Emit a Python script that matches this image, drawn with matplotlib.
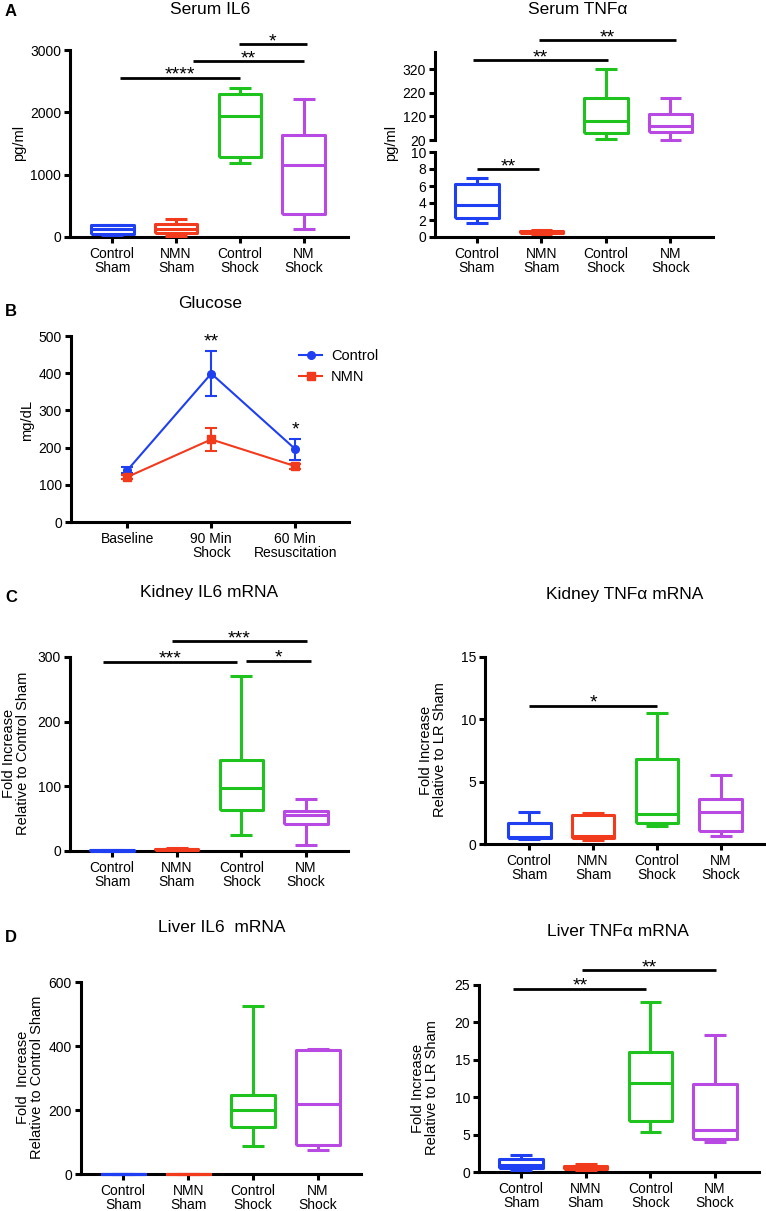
import matplotlib.pyplot as plt

plt.rcParams['font.family'] = ['Liberation Sans', 'DejaVu Sans']

W, H = 766, 1211

grupos = ['Control\nSham', 'NMN\nSham', 'Control\nShock', 'NM\nShock']
colores = ['#1f3ff2', '#f23a1d', '#1ec31e', '#b84ae3']

# cinco numeros por grupo: [bigote bajo, q1, mediana, q3, bigote alto]
serum_il6 = [[30, 55, 135, 190, 200],
             [10, 70, 134, 204, 284],
             [1190, 1286, 1946, 2294, 2396],
             [123, 375, 1163, 1635, 2214]]
serum_tnf = [[1.6, 2.2, 3.8, 6.2, 7.0],
             [0.35, 0.45, 0.6, 0.75, 0.85],
             [23, 51, 102, 199, 323],
             [20, 52, 80, 131, 199]]
kidney_il6 = [[0.5, 0.7, 1.0, 1.5, 2.0],
              [1.0, 1.5, 2.5, 3.5, 4.0],
              [24, 64, 98, 141, 271],
              [9, 42, 55, 62, 80]]
kidney_tnf = [[0.37, 0.46, 0.59, 1.71, 2.6],
              [0.32, 0.46, 0.67, 2.33, 2.46],
              [1.47, 1.71, 2.4, 6.8, 10.5],
              [0.67, 1.07, 2.6, 3.6, 5.5]]
liver_il6 = [[0.5, 0.8, 1.0, 1.2, 1.5],
             [0.5, 0.8, 1.0, 1.2, 1.5],
             [86, 147, 201, 248, 526],
             [76, 92, 219, 387, 392]]
liver_tnf = [[0.3, 0.5, 0.9, 1.7, 2.3],
             [0.27, 0.36, 0.62, 0.8, 1.07],
             [5.35, 6.86, 11.85, 16.0, 22.7],
             [4.05, 4.4, 5.6, 11.8, 18.3]]

# barras de significancia: (desde, hasta, altura, texto)
sig_serum_il6 = [(0.12, 2.0, 2557, '****'), (1.27, 3.0, 2825, '**'), (1.98, 3.05, 3093, '*')]
sig_serum_tnf_bajo = [(0.0, 0.97, 8.0, '**')]
sig_serum_tnf_alto = [(-0.06, 2.03, 357, '**'), (0.97, 3.08, 443, '**')]
sig_kidney_il6 = [(-0.14, 1.94, 293, '***'), (0.93, 3.01, 324, '***'), (2.07, 3.08, 294, '*')]
sig_kidney_tnf = [(0.0, 2.0, 11.1, '*')]
sig_liver_tnf = [(-0.12, 1.94, 24.5, '**'), (0.95, 3.01, 27.0, '**')]

# glucosa
tiempos = ['Baseline', '90 Min\nShock', '60 Min\nResuscitation']
gluc_control = [139, 399, 196]
gluc_control_err = [8, 61, 28]
gluc_nmn = [121, 222, 150]
gluc_nmn_err = [6, 32, 7]
sig_glucosa = ['', '**', '*']

LW = 2.2


def rect(x0, y0, x1, y1):
    return [x0 / W, 1 - y1 / H, (x1 - x0) / W, (y1 - y0) / H]


def ejes(ax, xlim, ylim, yticks, abajo=True):
    ax.set_xlim(*xlim)
    ax.set_ylim(*ylim)
    ax.set_yticks(yticks)
    for s in ['top', 'right']:
        ax.spines[s].set_visible(False)
    ax.spines['left'].set_linewidth(LW)
    ax.spines['bottom'].set_linewidth(LW)
    ax.tick_params(width=LW, length=4.5, labelsize=10, pad=2)
    ax.tick_params(axis='x', pad=3)
    if abajo:
        ax.set_xticks(range(4))
        ax.set_xticklabels(grupos, linespacing=1.0)
    else:
        ax.spines['bottom'].set_visible(False)
        ax.set_xticks([])


def cajas(ax, datos, indices=range(4)):
    for i in indices:
        d = datos[i]
        c = colores[i]
        st = dict(whislo=d[0], q1=d[1], med=d[2], q3=d[3], whishi=d[4], fliers=[])
        props = dict(color=c, lw=LW, solid_capstyle='butt')
        arts = ax.bxp([st], positions=[i], widths=0.67, showfliers=False,
                      boxprops=props, whiskerprops=props, capprops=props,
                      medianprops=props, manage_ticks=False)
        for lista in arts.values():
            for a in lista:
                a.set_clip_on(False)
                a.set_zorder(3)


def barras(ax, sigs):
    for x0, x1, y, txt in sigs:
        ax.plot([x0, x1], [y, y], color='black', lw=2.0, clip_on=False,
                solid_capstyle='butt')
        ax.annotate(txt, ((x0 + x1) / 2, y), xytext=(0, -1.5),
                    textcoords='offset points', ha='center', va='baseline',
                    fontsize=14, annotation_clip=False)


def etiqueta_y(txt, x, y):
    fig.text(x / W, 1 - y / H, txt, rotation=90, ha='center', va='center',
             fontsize=10.5, linespacing=1.05)


fig = plt.figure(figsize=(W / 100, H / 100), dpi=100)

# A izquierda
ax = fig.add_axes(rect(70, 50, 348, 237))
cajas(ax, serum_il6)
ejes(ax, (-0.66, 3.69), (0, 3000), [0, 1000, 2000, 3000])
barras(ax, sig_serum_il6)
etiqueta_y('pg/ml', 19, 143)

# A derecha (eje cortado)
ax_b = fig.add_axes(rect(435, 152, 713, 237))
cajas(ax_b, serum_tnf, [0, 1])
ejes(ax_b, (-0.65, 3.66), (0, 10), [0, 2, 4, 6, 8, 10])
barras(ax_b, sig_serum_tnf_bajo)
ax_a = fig.add_axes(rect(435, 52, 713, 140))
cajas(ax_a, serum_tnf, [2, 3])
ejes(ax_a, (-0.65, 3.66), (20, 393), [20, 120, 220, 320], abajo=False)
barras(ax_a, sig_serum_tnf_alto)
etiqueta_y('pg/ml', 391, 143)

# B glucosa
ax = fig.add_axes(rect(71, 336, 349, 522))
ax.set_xlim(-0.67, 2.64)
ax.set_ylim(0, 500)
for s in ['top', 'right']:
    ax.spines[s].set_visible(False)
ax.spines['left'].set_linewidth(LW)
ax.spines['bottom'].set_linewidth(LW)
ax.tick_params(width=LW, length=4.5, labelsize=10, pad=2)
ax.tick_params(axis='x', pad=3)
ax.set_yticks([0, 100, 200, 300, 400, 500])
ax.set_xticks(range(3))
ax.set_xticklabels(tiempos, linespacing=1.0)
c1 = ax.errorbar(range(3), gluc_control, yerr=gluc_control_err, color=colores[0], marker='o',
                 ms=5.5, lw=1.5, capsize=4, elinewidth=1.5, capthick=1.5, label='Control',
                 clip_on=False)
c2 = ax.errorbar(range(3), gluc_nmn, yerr=gluc_nmn_err, color=colores[1], marker='s',
                 ms=5.5, lw=1.5, capsize=4, elinewidth=1.5, capthick=1.5, label='NMN',
                 clip_on=False)
for i, txt in enumerate(sig_glucosa):
    if txt:
        ax.annotate(txt, (i, gluc_control[i] + gluc_control_err[i]), xytext=(0, 3),
                    textcoords='offset points', ha='center', va='baseline', fontsize=14)
ax.legend(handles=[c1[0], c2[0]], labels=['Control', 'NMN'], loc='upper left',
          bbox_to_anchor=(286 / W, 1 - 336 / H),
          bbox_transform=fig.transFigure, frameon=False, fontsize=10.5,
          handlelength=1.6, handletextpad=0.6, labelspacing=0.5)
etiqueta_y('mg/dL', 27, 420)

# C izquierda
ax = fig.add_axes(rect(70, 657, 348, 851))
cajas(ax, kidney_il6)
ejes(ax, (-0.65, 3.65), (0, 300), [0, 100, 200, 300])
barras(ax, sig_kidney_il6)
etiqueta_y('Fold Increase\nRelative to Control Sham', 16, 753)

# C derecha
ax = fig.add_axes(rect(485, 657, 765, 844))
cajas(ax, kidney_tnf)
ejes(ax, (-0.69, 3.69), (0, 15), [0, 5, 10, 15])
barras(ax, sig_kidney_tnf)
etiqueta_y('Fold Increase\nRelative to LR Sham', 433, 750)

# D izquierda
ax = fig.add_axes(rect(81, 982, 361, 1174))
cajas(ax, liver_il6)
ejes(ax, (-0.65, 3.66), (0, 600), [0, 200, 400, 600])
etiqueta_y('Fold  Increase\nRelative to Control Sham', 30, 1077)

# D derecha
ax = fig.add_axes(rect(479, 985, 759, 1172))
cajas(ax, liver_tnf)
ejes(ax, (-0.65, 3.68), (0, 25), [0, 5, 10, 15, 20, 25])
barras(ax, sig_liver_tnf)
etiqueta_y('Fold Increase\nRelative to LR Sham', 425, 1088)

# titulos y letras
titulos = [('Serum IL6', 210, 9), ('Serum TNFα', 578, 9), ('Glucose', 210, 303),
           ('Kidney IL6 mRNA', 209, 593), ('Kidney TNFα mRNA', 625, 595),
           ('Liver IL6  mRNA', 222, 927), ('Liver TNFα mRNA', 618, 932)]
for txt, x, y in titulos:
    fig.text(x / W, 1 - y / H, txt, ha='center', va='center', fontsize=12.5)
for txt, y in [('A', 12), ('B', 311), ('C', 597), ('D', 937)]:
    fig.text(11 / W, 1 - y / H, txt, ha='center', va='center', fontsize=12, fontweight='bold')

fig.savefig('out.png', dpi=100)
